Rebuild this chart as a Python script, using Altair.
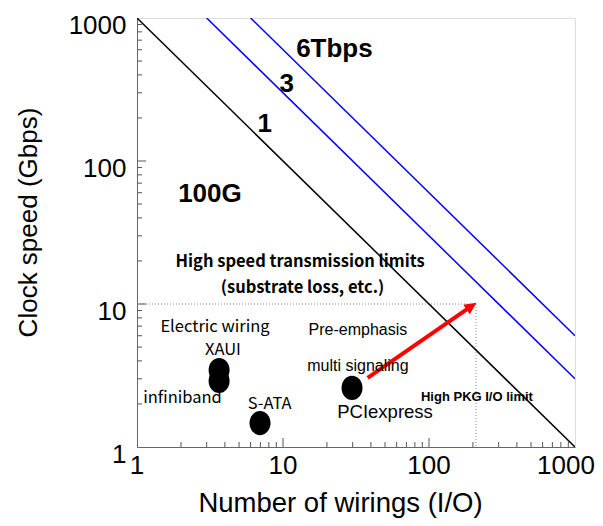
import altair as alt
import pandas as pd

# ---- data ----
axis_values = [1, 10, 100, 1000]
minor_ticks = [2, 3, 4, 5, 6, 7, 8, 9, 20, 30, 40, 50, 60, 70, 80, 90,
               200, 300, 400, 500, 600, 700, 800, 900]
major_ticks = [10, 100]

# bandwidth limit lines (x * y = const)
line1_x = [1, 1000]; line1_y = [1000, 1]
line3_x = [3, 1000]; line3_y = [1000, 3]
line6_x = [6, 1000]; line6_y = [1000, 6]

# dotted "limit" box
box_x = [1, 210, 210]; box_y = [10, 10, 1]

# red arrow
arrow_x = [38, 194]; arrow_y = [3.04, 9.62]
arrow_head_x = [194]; arrow_head_y = [9.62]

# interfaces
dot_names = ["XAUI", "infiniband", "S-ATA", "PCIexpress"]
dot_x = [3.65, 3.65, 6.96, 29.7]
dot_y = [3.45, 2.9, 1.47, 2.59]

# annotations
big_labels = ["6Tbps", "3", "1", "100G"]
big_x = [22.5, 10.6, 7.5, 3.16]
big_y = [610, 345, 180, 59]

limit_labels = ["High speed transmission limits", "(substrate loss, etc.)"]
limit_x = [13.1, 13.6]
limit_y = [19.7, 13.0]

gothic_labels = ["Electric wiring", "XAUI", "infiniband", "S-ATA"]
gothic_x = [3.42, 3.88, 2.05, 8.1]
gothic_y = [6.95, 4.75, 2.2, 2.0]

arial_labels = ["Pre-emphasis", "multi signaling"]
arial_x = [32.6, 32.6]
arial_y = [6.58, 3.69]

pci_labels = ["PCIexpress"]
pci_x = [50]
pci_y = [1.75]

pkg_labels = ["High PKG I/O limit"]
pkg_x = [213]
pkg_y = [2.24]

# ---- scales / axes ----
xs = alt.Scale(type="log", domain=[1, 1000], nice=False)
ys = alt.Scale(type="log", domain=[1, 1000], nice=False)

xaxis = alt.Axis(values=axis_values, ticks=False, grid=False, labels=False,
                 domainColor="#666",
                 title="Number of wirings (I/O)", titleFont="Liberation Sans",
                 titleFontSize=27.5, titleFontWeight="normal", titleColor="black",
                 titleX=203, titleY=64, titleBaseline="alphabetic")
yaxis = alt.Axis(values=axis_values, format="d", ticks=False, grid=False,
                 domainColor="#666", labelFont="Liberation Sans", labelFontSize=26,
                 labelColor="black", labelPadding=11, labelOffset=7, labelFlush=False,
                 title="Clock speed (Gbps)", titleFont="Liberation Sans",
                 titleFontSize=26, titleFontWeight="normal", titleColor="black",
                 titleAngle=-90, titleX=-109, titleY=204, titleBaseline="middle")

X = alt.X("x:Q", scale=xs, axis=xaxis)
Y = alt.Y("y:Q", scale=ys, axis=yaxis)


def df(xv, yv, **extra):
    d = {"x": xv, "y": yv}
    d.update(extra)
    return pd.DataFrame(d)


def line(xv, yv, color, width=1.5, dash=None):
    kw = dict(color=color, strokeWidth=width, clip=True)
    if dash:
        kw["strokeDash"] = dash
    return alt.Chart(df(xv, yv)).mark_line(**kw).encode(x=X, y=Y)


layers = []
layers.append(line(box_x, box_y, "#888", 1, [1, 2]))
layers.append(line(line1_x, line1_y, "black"))
layers.append(line(line3_x, line3_y, "#0000ff"))
layers.append(line(line6_x, line6_y, "#0000ff"))

# inward ticks
H = 429
layers.append(alt.Chart(pd.DataFrame({"x": minor_ticks})).mark_rule(color="#555")
              .encode(x=X, y=alt.value(H), y2=alt.value(H - 5)))
layers.append(alt.Chart(pd.DataFrame({"x": major_ticks})).mark_rule(color="#555")
              .encode(x=X, y=alt.value(H), y2=alt.value(H - 9)))
layers.append(alt.Chart(pd.DataFrame({"y": minor_ticks})).mark_rule(color="#555")
              .encode(y=Y, x=alt.value(0), x2=alt.value(5)))
layers.append(alt.Chart(pd.DataFrame({"y": major_ticks})).mark_rule(color="#555")
              .encode(y=Y, x=alt.value(0), x2=alt.value(9)))

# x tick labels (drawn through the x scale; the last one nudged to stay inside the page)
xlab = pd.DataFrame({"x": axis_values, "t": [str(v) for v in axis_values]})
layers.append(alt.Chart(xlab.iloc[:-1]).mark_text(
    font="Liberation Sans", fontSize=26, color="black", align="center", baseline="middle")
    .encode(x=X, y=alt.value(H + 19), text="t:N"))
layers.append(alt.Chart(xlab.iloc[-1:]).mark_text(
    font="Liberation Sans", fontSize=26, color="black", align="center", baseline="middle", dx=-9)
    .encode(x=X, y=alt.value(H + 19), text="t:N"))

# arrow
layers.append(line(arrow_x, arrow_y, "#ff0000", 4))
layers.append(alt.Chart(df(arrow_head_x, arrow_head_y)).mark_point(
    shape="M0,-1L0.85,0.8L-0.85,0.8Z", filled=True, color="#ff0000", opacity=1,
    size=180, angle=56).encode(x=X, y=Y))

# dots
layers.append(alt.Chart(df(dot_x, dot_y, name=dot_names)).mark_point(
    shape="M0,-1.15A1,1.15 0 1,1 0,1.15A1,1.15 0 1,1 0,-1.15Z", filled=True,
    color="black", opacity=1, size=441).encode(x=X, y=Y))


def text(labels, xv, yv, **style):
    base = dict(align="center", baseline="middle", color="black")
    base.update(style)
    return alt.Chart(df(xv, yv, t=labels)).mark_text(**base).encode(x=X, y=Y, text="t:N")


layers.append(text(big_labels, big_x, big_y, font="Liberation Sans", fontSize=26, fontWeight="bold"))
layers.append(text(limit_labels, limit_x, limit_y, font="Noto Sans CJK JP", fontSize=16.5, fontWeight="bold"))
layers.append(text(gothic_labels, gothic_x, gothic_y, font="Noto Sans CJK JP", fontSize=16.5))
layers.append(text(arial_labels, arial_x, arial_y, font="Liberation Sans", fontSize=16))
layers.append(text(pci_labels, pci_x, pci_y, font="Liberation Sans", fontSize=18.5))
layers.append(text(pkg_labels, pkg_x, pkg_y, font="Liberation Sans", fontSize=13, fontWeight="bold"))

chart = alt.layer(*layers).properties(
    width=438, height=429,
    autosize=alt.AutoSizeParams(type="none"),
    padding={"left": 129, "top": 10, "right": 20, "bottom": 71},
).configure_view(stroke="#333", strokeWidth=1).configure(background="white")

chart.save("out.html", embed_options={"renderer": "svg", "actions": False})
